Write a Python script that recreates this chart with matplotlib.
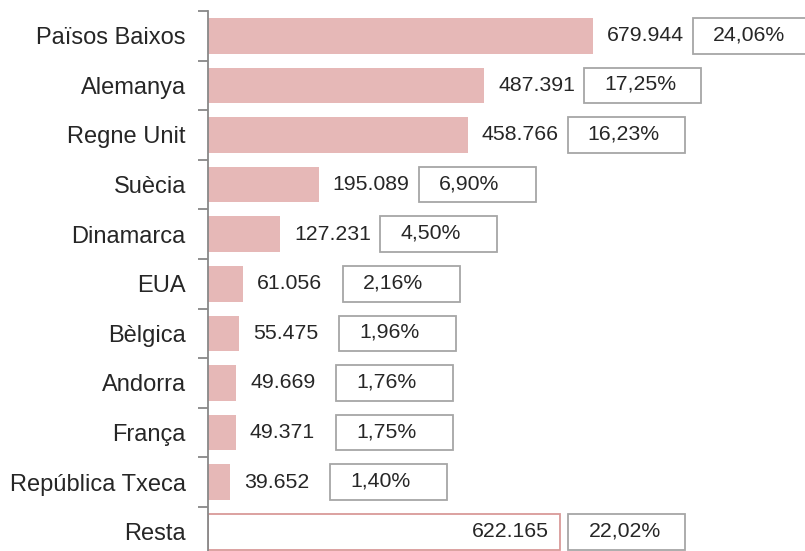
import matplotlib.pyplot as plt
from matplotlib.patches import Rectangle

plt.rcParams['font.family'] = ['Liberation Sans', 'DejaVu Sans']

countries = ['Països Baixos', 'Alemanya', 'Regne Unit', 'Suècia', 'Dinamarca', 'EUA',
             'Bèlgica', 'Andorra', 'França', 'República Txeca', 'Resta']
values = [679944, 487391, 458766, 195089, 127231, 61056, 55475, 49669, 49371, 39652, 622165]
value_labels = ['679.944', '487.391', '458.766', '195.089', '127.231', '61.056',
                '55.475', '49.669', '49.371', '39.652', '622.165']
pct_labels = ['24,06%', '17,25%', '16,23%', '6,90%', '4,50%', '2,16%',
              '1,96%', '1,76%', '1,75%', '1,40%', '22,02%']

W, H = 805, 551
fig = plt.figure(figsize=(W / 100, H / 100), dpi=100)
ax = fig.add_axes([208 / W, (H - 556.6) / H, (W - 208) / W, 545.6 / H])

xmax = 1054000
ax.set_xlim(0, xmax)
ax.set_ylim(len(countries) - 0.5, -0.5)
px = xmax / (W - 208)  # data units per pixel

pink = '#E6B8B7'
txt = '#262626'
fs = 15.3
bar_h = 0.72
n = len(countries)

for i, (v, lab, pct) in enumerate(zip(values, value_labels, pct_labels)):
    last = (i == n - 1)
    if last:
        ax.barh(i, v, height=bar_h, color='white', edgecolor='#D99A99', linewidth=1.3)
        ax.text(v - 12 * px, i, lab, ha='right', va='center', fontsize=fs, color=txt)
        box_x = v + 8 * px
    else:
        ax.barh(i, v, height=bar_h, color=pink, edgecolor='none')
        ax.text(v + 14 * px, i, lab, ha='left', va='center', fontsize=fs, color=txt)
        box_x = v + 100 * px
    ax.add_patch(Rectangle((box_x, i - bar_h / 2), 117 * px, bar_h, facecolor='white',
                           edgecolor='#A6A6A6', linewidth=1.3, clip_on=False))
    ax.text(box_x + 20 * px, i - 0.02, pct, ha='left', va='center', fontsize=fs,
            color=txt, clip_on=False)

ax.set_yticks(range(n))
ax.set_yticklabels(countries, fontsize=17, color=txt)
ax.set_yticks([k - 0.5 for k in range(n + 1)], minor=True)
ax.tick_params(axis='y', which='major', length=0, pad=16)
ax.tick_params(axis='y', which='minor', length=7, width=1.3, color='#888888', direction='out')
ax.set_xticks([])
for s in ['top', 'right', 'bottom']:
    ax.spines[s].set_visible(False)
ax.spines['left'].set_color('#888888')
ax.spines['left'].set_linewidth(1.3)

fig.savefig('out.png', dpi=100)
